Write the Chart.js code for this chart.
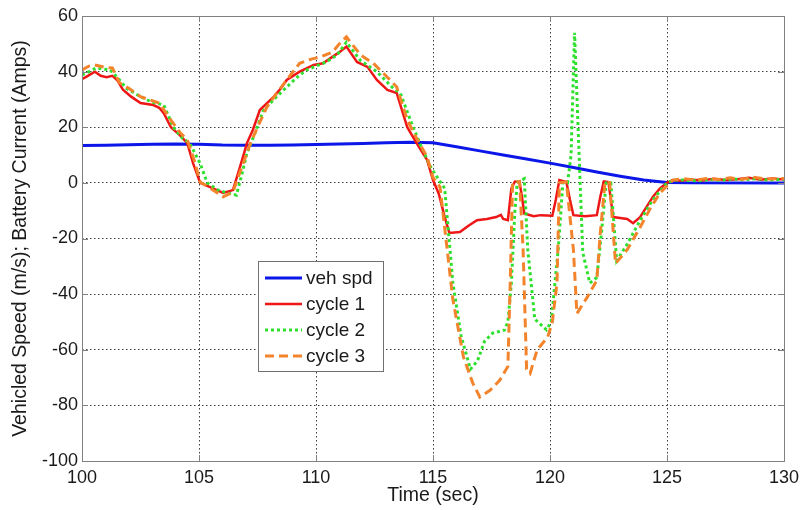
<!DOCTYPE html>
<html>
<head>
<meta charset="utf-8">
<script src="https://cdn.jsdelivr.net/npm/chart.js@4/dist/chart.umd.min.js"></script>
<style>
  body { margin: 0; background: #fff; }
</style>
</head>
<body>
<canvas id="speedChart" width="801" height="510"></canvas>
<script>
// axis ticks
const xTicks = [100, 105, 110, 115, 120, 125, 130];
const yTicks = [-100, -80, -60, -40, -20, 0, 20, 40, 60];

// vehicle speed (m/s)
const spdTime = [100, 101, 102, 103, 104, 105, 106, 107, 108, 109, 110, 111, 112, 113, 114, 115, 116, 117, 118, 119, 120, 121, 122, 123, 124, 125, 126, 130];
const vehSpd = [13.4, 13.5, 13.7, 13.9, 14.0, 13.9, 13.6, 13.5, 13.5, 13.6, 13.8, 14.0, 14.2, 14.4, 14.6, 14.4, 13.0, 11.5, 10.0, 8.6, 7.1, 5.5, 3.9, 2.4, 1.0, 0.1, 0, 0];

// battery current, cycle 1
const cycle1Time = [100, 100.25, 100.55, 100.8, 101.05, 101.3, 101.5, 101.75, 102.1, 102.5, 103.05, 103.3, 103.5, 103.8, 104.2, 104.5, 104.75, 105.05, 105.6, 106.03, 106.45, 106.75, 107.05, 107.3, 107.6, 108.2, 108.5, 108.75, 109.3, 109.9, 110.3, 110.7, 111.0, 111.3, 111.75, 112.2, 112.6, 113.05, 113.45, 113.9, 114.3, 114.75, 115.0, 115.25, 115.5, 115.7, 116.15, 116.5, 116.88, 117.3, 117.7, 117.9, 118.0, 118.2, 118.35, 118.5, 118.7, 118.8, 118.9, 119.3, 119.6, 120.1, 120.25, 120.4, 120.7, 120.85, 121.0, 121.5, 122.0, 122.15, 122.3, 122.5, 122.6, 122.7, 123.0, 123.3, 123.55, 123.85, 124.1, 124.4, 124.7, 125.0, 125.25, 125.6, 126.0, 126.5, 127.0, 127.5, 128.0, 128.5, 129.0, 129.5, 130];
const cycle1 = [37.3, 38.5, 40, 38.5, 38, 38.5, 37, 33.5, 31, 28.7, 28, 27, 25, 20, 17, 14.3, 7, 0, -2, -3.6, -2.6, 5.7, 14.3, 19, 26.2, 31, 34, 37, 40, 42.4, 43, 45.3, 47, 49, 43.5, 41.7, 37, 33.4, 32.3, 20, 14.3, 8.2, 1, -4, -12.3, -18, -17.7, -15.5, -13.4, -13, -12.3, -11.5, -13, -13.4, -2, 0.5, 0.3, -5, -11, -12, -11.6, -11.8, -6, 1, 0.3, -6, -11.6, -12, -11.6, -5, 0.5, 0.3, -6, -12.3, -12.6, -13, -14.5, -12.3, -9, -5, -2, 0, 1, 0.8, 1.2, 0.9, 1.5, 1.0, 1.3, 1.8, 1.1, 1.6, 1.2];

// battery current, cycle 2
const cycle2Time = [100, 100.3, 100.6, 101.2, 101.5, 101.9, 102.5, 103.0, 103.5, 103.9, 104.3, 104.6, 105.05, 105.35, 105.8, 106.2, 106.6, 106.8, 107.05, 107.4, 107.75, 108.2, 108.75, 109.2, 109.6, 110.0, 110.45, 110.9, 111.3, 111.9, 112.6, 113.3, 113.6, 114.15, 114.5, 114.9, 115.3, 115.5, 115.85, 116.2, 116.6, 116.9, 117.2, 117.55, 118.05, 118.2, 118.35, 118.5, 118.6, 118.9, 119.05, 119.35, 119.85, 120.05, 120.35, 120.55, 120.75, 120.9, 121.05, 121.2, 121.4, 121.7, 122.0, 122.2, 122.4, 122.6, 122.85, 123.3, 123.85, 124.4, 125.0, 125.3, 125.8, 126.3, 126.8, 127.3, 127.8, 128.3, 128.8, 129.3, 130];
const cycle2 = [38.8, 40, 41.3, 40.6, 38, 34, 31, 29, 28, 20, 16, 14.3, 7, 0, -2.5, -3.6, -4.4, 2, 10.7, 18, 26, 30, 34.5, 38, 40.6, 42, 43.5, 46, 50.6, 44, 40, 34, 32.3, 20, 13, 5.7, 0.5, -2, -36, -55, -67, -64, -57, -54, -53, -50, -36, -10, 0, 1.5, -24, -49, -52.8, -50, -24, 0, 0, 10, 54, 20, -25, -36, -34, -18, 0, 0, -28, -22, -13.5, -6, 0, 1, 1.0, 0.7, 1.2, 0.9, 1.4, 1.1, 1.5, 1.0, 1.3];

// battery current, cycle 3
const cycle3Time = [100, 100.3, 100.55, 101.0, 101.3, 101.6, 102.0, 102.5, 103.3, 103.8, 104.2, 104.5, 104.8, 105.05, 105.5, 106.03, 106.45, 106.8, 107.2, 107.5, 107.9, 108.3, 108.75, 109.3, 109.8, 110.2, 110.7, 111.0, 111.3, 111.9, 112.45, 113.05, 113.45, 113.9, 114.3, 114.75, 115.0, 115.3, 115.85, 116.3, 116.7, 117.0, 117.45, 117.85, 118.2, 118.3, 118.4, 118.7, 118.85, 119.0, 119.15, 119.45, 119.9, 120.1, 120.3, 120.4, 120.7, 121.0, 121.15, 121.6, 122.0, 122.15, 122.35, 122.55, 122.8, 123.3, 123.85, 124.3, 124.7, 125.25, 125.7, 126.2, 126.7, 127.2, 127.7, 128.2, 128.7, 129.2, 130];
const cycle3 = [40.6, 42, 42.4, 41.5, 41.3, 36, 34, 31, 28.7, 22.6, 18, 15.4, 8, 0.3, -2, -5, -3.3, 5, 14.3, 20, 27.3, 32, 37, 43, 44.5, 45.3, 47, 50, 52.5, 46, 43, 38, 34.5, 22.6, 16, 9.3, 2, -1.5, -42, -62.6, -72, -77, -74.5, -71, -66, -36, 0, 0.5, -24, -67, -68.5, -60, -55.5, -50, -36, 0, 0.3, -24, -47, -41, -35, -18, 0.3, 0, -29, -24, -16, -9, -3.6, 1, 1.5, 1.0, 1.6, 1.2, 1.8, 1.3, 2.0, 1.4, 1.6];

const fontFamily = "'Liberation Sans', Arial, Helvetica, sans-serif";
const textColor = '#1a1a1a';

function toPoints(times, values) {
    return times.map((t, i) => ({ x: t, y: values[i] }));
}

// gray axes box, inward tick marks and the legend panel
const framePlugin = {
    id: 'frame',
    afterDraw(chart) {
        const { ctx, chartArea: a, scales } = chart;
        ctx.save();
        ctx.strokeStyle = '#808080';
        ctx.lineWidth = 1;
        ctx.setLineDash([]);
        ctx.beginPath();
        xTicks.forEach((v) => {
            const x = Math.round(scales.x.getPixelForValue(v)) + 0.5;
            ctx.moveTo(x, a.bottom); ctx.lineTo(x, a.bottom - 6);
            ctx.moveTo(x, a.top); ctx.lineTo(x, a.top + 6);
        });
        yTicks.forEach((v) => {
            const y = Math.round(scales.y.getPixelForValue(v)) + 0.5;
            ctx.moveTo(a.left, y); ctx.lineTo(a.left + 6, y);
            ctx.moveTo(a.right, y); ctx.lineTo(a.right - 6, y);
        });
        ctx.stroke();
        ctx.strokeRect(a.left + 0.5, a.top + 0.5, a.right - a.left, a.bottom - a.top);

        // legend
        const box = { x: 258, y: 261, w: 125, h: 110 };
        ctx.fillStyle = '#fff';
        ctx.fillRect(box.x, box.y, box.w, box.h);
        ctx.strokeStyle = '#707070';
        ctx.strokeRect(box.x + 0.5, box.y + 0.5, box.w, box.h);
        ctx.font = '19px ' + fontFamily;
        ctx.textBaseline = 'middle';
        ctx.textAlign = 'left';
        chart.data.datasets.forEach((ds, i) => {
            const y = box.y + 17 + i * 26;
            ctx.strokeStyle = ds.borderColor;
            ctx.lineWidth = ds.borderWidth;
            ctx.setLineDash(ds.borderDash || []);
            ctx.beginPath();
            ctx.moveTo(box.x + 7, y);
            ctx.lineTo(box.x + 44, y);
            ctx.stroke();
            ctx.fillStyle = textColor;
            ctx.fillText(ds.label, box.x + 48, y + 1);
        });
        ctx.restore();
    }
};

const ctx = document.getElementById('speedChart').getContext('2d');
const chart = new Chart(ctx, {
    type: 'line',
    data: {
        datasets: [
            { label: 'veh spd', data: toPoints(spdTime, vehSpd), borderColor: '#0b16e8', borderWidth: 3, order: 3 },
            { label: 'cycle 1', data: toPoints(cycle1Time, cycle1), borderColor: '#ee1616', borderWidth: 2.5, order: 2 },
            { label: 'cycle 2', data: toPoints(cycle2Time, cycle2), borderColor: '#2ee02e', borderWidth: 3, borderDash: [3, 3], order: 1 },
            { label: 'cycle 3', data: toPoints(cycle3Time, cycle3), borderColor: '#f4842c', borderWidth: 3, borderDash: [9, 5], order: 0 },
        ],
    },
    options: {
        responsive: false,
        animation: false,
        layout: { padding: { left: 0, top: 16, right: 17, bottom: 0 } },
        elements: { point: { radius: 0 }, line: { tension: 0, fill: false } },
        plugins: { legend: { display: false }, tooltip: { enabled: false } },
        scales: {
            x: {
                type: 'linear',
                min: 100,
                max: 130,
                afterBuildTicks: (scale) => { scale.ticks = xTicks.map((v) => ({ value: v })); },
                afterFit: (scale) => {
                    scale.height = 49;
                    scale.paddingLeft = 0;
                    scale.paddingRight = 0;
                },
                ticks: { color: textColor, font: { family: fontFamily, size: 18 }, padding: 6, maxRotation: 0 },
                grid: { color: '#3c3c3c', lineWidth: 1, drawTicks: false },
                border: { display: false, dash: [1.5, 2.5] },
                title: { display: true, text: 'Time (sec)', color: textColor, font: { family: fontFamily, size: 19.5 }, padding: { top: 0, bottom: 3 } },
            },
            y: {
                min: -100,
                max: 60,
                afterBuildTicks: (scale) => { scale.ticks = yTicks.map((v) => ({ value: v })); },
                afterFit: (scale) => {
                    scale.width = 82;
                    scale.paddingTop = 0;
                    scale.paddingBottom = 0;
                },
                ticks: { color: textColor, font: { family: fontFamily, size: 18 }, padding: 4 },
                grid: { color: '#3c3c3c', lineWidth: 1, drawTicks: false },
                border: { display: false, dash: [1.5, 2.5] },
                title: { display: true, text: 'Vehicled Speed (m/s); Battery Current (Amps)', color: textColor, font: { family: fontFamily, size: 19.5 }, padding: { top: 9, bottom: 0 } },
            },
        },
    },
    plugins: [framePlugin],
});
</script>
</body>
</html>
